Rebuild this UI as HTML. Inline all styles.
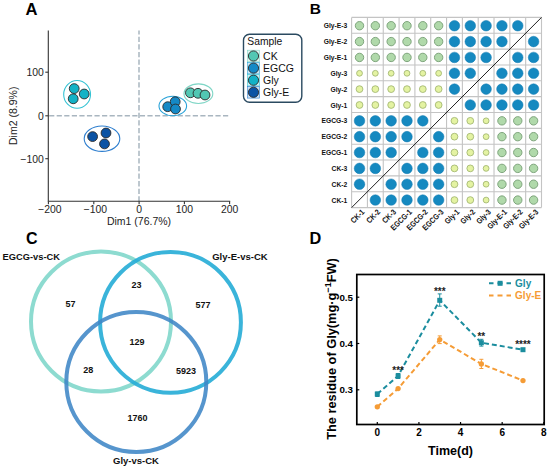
<!DOCTYPE html>
<html><head><meta charset="utf-8"><style>
html,body{margin:0;padding:0;background:#fff;width:550px;height:469px;overflow:hidden}
svg{display:block;font-family:"Liberation Sans", sans-serif}
</style></head><body>
<svg width="550" height="469" viewBox="0 0 550 469">
<rect width="550" height="469" fill="#fff"/>
<text x="25.6" y="15.4" font-size="16.6" font-weight="bold" fill="#000">A</text>
<line x1="48.3" y1="115.8" x2="230.2" y2="115.8" stroke="#a9b6c0" stroke-width="1.5" stroke-dasharray="5.2 2.36" stroke-dashoffset="-0.82"/>
<line x1="139" y1="30.4" x2="139" y2="201.2" stroke="#a9b6c0" stroke-width="1.5" stroke-dasharray="5.3 2.3" stroke-dashoffset="-6.3"/>
<path d="M48.3 30.4 V201.2 H230.2" fill="none" stroke="#333" stroke-width="1.1"/>
<line x1="45.3" y1="72.2" x2="48.3" y2="72.2" stroke="#333" stroke-width="1.1"/>
<text x="43.8" y="76.4" font-size="10.4" fill="#1e1e1e" text-anchor="end">100</text>
<line x1="45.3" y1="115.8" x2="48.3" y2="115.8" stroke="#333" stroke-width="1.1"/>
<text x="43.8" y="120.0" font-size="10.4" fill="#1e1e1e" text-anchor="end">0</text>
<line x1="45.3" y1="158.7" x2="48.3" y2="158.7" stroke="#333" stroke-width="1.1"/>
<text x="43.8" y="162.89999999999998" font-size="10.4" fill="#1e1e1e" text-anchor="end">−<tspan dx="0.4">100</tspan></text>
<line x1="48.4" y1="201.2" x2="48.4" y2="204.2" stroke="#333" stroke-width="1.1"/>
<text x="49.699999999999996" y="213" font-size="10.4" fill="#1e1e1e" text-anchor="middle">−<tspan dx="0.4">200</tspan></text>
<line x1="93.8" y1="201.2" x2="93.8" y2="204.2" stroke="#333" stroke-width="1.1"/>
<text x="95.1" y="213" font-size="10.4" fill="#1e1e1e" text-anchor="middle">−<tspan dx="0.4">100</tspan></text>
<line x1="139.1" y1="201.2" x2="139.1" y2="204.2" stroke="#333" stroke-width="1.1"/>
<text x="139.1" y="213" font-size="10.4" fill="#1e1e1e" text-anchor="middle">0</text>
<line x1="184.4" y1="201.2" x2="184.4" y2="204.2" stroke="#333" stroke-width="1.1"/>
<text x="184.4" y="213" font-size="10.4" fill="#1e1e1e" text-anchor="middle">100</text>
<line x1="229.6" y1="201.2" x2="229.6" y2="204.2" stroke="#333" stroke-width="1.1"/>
<text x="229.6" y="213" font-size="10.4" fill="#1e1e1e" text-anchor="middle">200</text>
<text x="139" y="225" font-size="10.5" fill="#222" text-anchor="middle">Dim1 (76.7%)</text>
<text transform="translate(17.4 115.8) rotate(-90)" x="0" y="0" font-size="10.5" fill="#222" text-anchor="middle">Dim2 (8.9%)</text>
<ellipse cx="77.1" cy="94.4" rx="13.4" ry="13.9" fill="none" stroke="#35c3d4" stroke-width="1.1" transform="rotate(0 77.1 94.4)"/>
<circle cx="74.2" cy="88.6" r="4.9" fill="#13b2c6" stroke="#2a2a2a" stroke-width="0.9"/>
<circle cx="84.2" cy="94" r="4.9" fill="#13b2c6" stroke="#2a2a2a" stroke-width="0.9"/>
<circle cx="73.2" cy="98.8" r="4.9" fill="#13b2c6" stroke="#2a2a2a" stroke-width="0.9"/>
<ellipse cx="102" cy="138.7" rx="17.8" ry="12.7" fill="none" stroke="#2f7fcf" stroke-width="1.1" transform="rotate(0 102 138.7)"/>
<circle cx="92.6" cy="136.6" r="4.9" fill="#0c53a4" stroke="#2a2a2a" stroke-width="0.9"/>
<circle cx="106" cy="133" r="4.9" fill="#0c53a4" stroke="#2a2a2a" stroke-width="0.9"/>
<circle cx="104.5" cy="143.9" r="4.9" fill="#0c53a4" stroke="#2a2a2a" stroke-width="0.9"/>
<ellipse cx="198.4" cy="93.7" rx="14.4" ry="9.8" fill="none" stroke="#7fd6c6" stroke-width="1.1" transform="rotate(0 198.4 93.7)"/>
<circle cx="190.4" cy="92.8" r="4.9" fill="#52c7b3" stroke="#2a2a2a" stroke-width="0.9"/>
<circle cx="198" cy="93.3" r="4.9" fill="#52c7b3" stroke="#2a2a2a" stroke-width="0.9"/>
<circle cx="205" cy="95" r="4.9" fill="#52c7b3" stroke="#2a2a2a" stroke-width="0.9"/>
<ellipse cx="172.8" cy="106" rx="13.8" ry="9.7" fill="none" stroke="#2aa3d9" stroke-width="1.1" transform="rotate(0 172.8 106)"/>
<circle cx="167.7" cy="106.7" r="4.9" fill="#1589c6" stroke="#2a2a2a" stroke-width="0.9"/>
<circle cx="175.2" cy="101.7" r="4.9" fill="#1589c6" stroke="#2a2a2a" stroke-width="0.9"/>
<circle cx="175.5" cy="109" r="4.9" fill="#1589c6" stroke="#2a2a2a" stroke-width="0.9"/>
<rect x="243.5" y="34.3" width="58.3" height="67.9" rx="6" fill="#fff" stroke="#2b4a60" stroke-width="1.4"/>
<text x="247.3" y="45.4" font-size="10.3" fill="#111">Sample</text>
<rect x="247.5" y="50.2" width="12" height="11.6" fill="#7fd6c6" fill-opacity="0.25" stroke="#7fd6c6" stroke-width="0.6"/>
<circle cx="253.5" cy="56.0" r="5.1" fill="#52c7b3" stroke="#2a2a2a" stroke-width="0.9"/>
<text x="263.1" y="59.7" font-size="10.5" fill="#111">CK</text>
<rect x="247.5" y="62.3" width="12" height="11.6" fill="#2aa3d9" fill-opacity="0.25" stroke="#2aa3d9" stroke-width="0.6"/>
<circle cx="253.5" cy="68.1" r="5.1" fill="#1589c6" stroke="#2a2a2a" stroke-width="0.9"/>
<text x="263.1" y="71.8" font-size="10.5" fill="#111">EGCG</text>
<rect x="247.5" y="74.4" width="12" height="11.6" fill="#35c3d4" fill-opacity="0.25" stroke="#35c3d4" stroke-width="0.6"/>
<circle cx="253.5" cy="80.2" r="5.1" fill="#13b2c6" stroke="#2a2a2a" stroke-width="0.9"/>
<text x="263.1" y="83.9" font-size="10.5" fill="#111">Gly</text>
<rect x="247.5" y="86.5" width="12" height="11.6" fill="#2f7fcf" fill-opacity="0.25" stroke="#2f7fcf" stroke-width="0.6"/>
<circle cx="253.5" cy="92.3" r="5.1" fill="#0c53a4" stroke="#2a2a2a" stroke-width="0.9"/>
<text x="263.1" y="96.0" font-size="10.5" fill="#111">Gly-E</text>
<text x="309.8" y="14.3" font-size="15.5" font-weight="bold" fill="#000">B</text>
<circle cx="375.34" cy="200.07" r="5.3" fill="#1589c0" stroke="#137bb0" stroke-width="0.5"/>
<circle cx="391.16" cy="200.07" r="5.3" fill="#1589c0" stroke="#137bb0" stroke-width="0.5"/>
<circle cx="406.99" cy="200.07" r="5.3" fill="#1589c0" stroke="#137bb0" stroke-width="0.5"/>
<circle cx="422.81" cy="200.07" r="5.3" fill="#1589c0" stroke="#137bb0" stroke-width="0.5"/>
<circle cx="438.64" cy="200.07" r="5.3" fill="#1589c0" stroke="#137bb0" stroke-width="0.5"/>
<circle cx="454.46" cy="200.07" r="3.4" fill="#e4f3a2" stroke="#a5b974" stroke-width="0.9"/>
<circle cx="470.29" cy="200.07" r="3.4" fill="#e4f3a2" stroke="#a5b974" stroke-width="0.9"/>
<circle cx="486.11" cy="200.07" r="2.9" fill="#e4f3a2" stroke="#a5b974" stroke-width="0.9"/>
<circle cx="501.94" cy="200.07" r="4.2" fill="#b0d9aa" stroke="#7fa57d" stroke-width="1"/>
<circle cx="517.76" cy="200.07" r="4.2" fill="#b0d9aa" stroke="#7fa57d" stroke-width="1"/>
<circle cx="533.59" cy="200.07" r="4.2" fill="#b0d9aa" stroke="#7fa57d" stroke-width="1"/>
<circle cx="359.51" cy="184.22" r="5.3" fill="#1589c0" stroke="#137bb0" stroke-width="0.5"/>
<circle cx="391.16" cy="184.22" r="5.3" fill="#1589c0" stroke="#137bb0" stroke-width="0.5"/>
<circle cx="406.99" cy="184.22" r="5.3" fill="#1589c0" stroke="#137bb0" stroke-width="0.5"/>
<circle cx="422.81" cy="184.22" r="5.3" fill="#1589c0" stroke="#137bb0" stroke-width="0.5"/>
<circle cx="438.64" cy="184.22" r="5.3" fill="#1589c0" stroke="#137bb0" stroke-width="0.5"/>
<circle cx="454.46" cy="184.22" r="3.4" fill="#e4f3a2" stroke="#a5b974" stroke-width="0.9"/>
<circle cx="470.29" cy="184.22" r="3.4" fill="#e4f3a2" stroke="#a5b974" stroke-width="0.9"/>
<circle cx="486.11" cy="184.22" r="2.9" fill="#e4f3a2" stroke="#a5b974" stroke-width="0.9"/>
<circle cx="501.94" cy="184.22" r="4.2" fill="#b0d9aa" stroke="#7fa57d" stroke-width="1"/>
<circle cx="517.76" cy="184.22" r="4.2" fill="#b0d9aa" stroke="#7fa57d" stroke-width="1"/>
<circle cx="533.59" cy="184.22" r="4.2" fill="#b0d9aa" stroke="#7fa57d" stroke-width="1"/>
<circle cx="359.51" cy="168.38" r="5.3" fill="#1589c0" stroke="#137bb0" stroke-width="0.5"/>
<circle cx="375.34" cy="168.38" r="5.3" fill="#1589c0" stroke="#137bb0" stroke-width="0.5"/>
<circle cx="406.99" cy="168.38" r="5.3" fill="#1589c0" stroke="#137bb0" stroke-width="0.5"/>
<circle cx="422.81" cy="168.38" r="5.3" fill="#1589c0" stroke="#137bb0" stroke-width="0.5"/>
<circle cx="438.64" cy="168.38" r="5.3" fill="#1589c0" stroke="#137bb0" stroke-width="0.5"/>
<circle cx="454.46" cy="168.38" r="3.4" fill="#e4f3a2" stroke="#a5b974" stroke-width="0.9"/>
<circle cx="470.29" cy="168.38" r="3.4" fill="#e4f3a2" stroke="#a5b974" stroke-width="0.9"/>
<circle cx="486.11" cy="168.38" r="2.9" fill="#e4f3a2" stroke="#a5b974" stroke-width="0.9"/>
<circle cx="501.94" cy="168.38" r="4.2" fill="#b0d9aa" stroke="#7fa57d" stroke-width="1"/>
<circle cx="517.76" cy="168.38" r="4.2" fill="#b0d9aa" stroke="#7fa57d" stroke-width="1"/>
<circle cx="533.59" cy="168.38" r="4.2" fill="#b0d9aa" stroke="#7fa57d" stroke-width="1"/>
<circle cx="359.51" cy="152.53" r="5.3" fill="#1589c0" stroke="#137bb0" stroke-width="0.5"/>
<circle cx="375.34" cy="152.53" r="5.3" fill="#1589c0" stroke="#137bb0" stroke-width="0.5"/>
<circle cx="391.16" cy="152.53" r="5.3" fill="#1589c0" stroke="#137bb0" stroke-width="0.5"/>
<circle cx="422.81" cy="152.53" r="5.3" fill="#1589c0" stroke="#137bb0" stroke-width="0.5"/>
<circle cx="438.64" cy="152.53" r="5.3" fill="#1589c0" stroke="#137bb0" stroke-width="0.5"/>
<circle cx="454.46" cy="152.53" r="3.4" fill="#e4f3a2" stroke="#a5b974" stroke-width="0.9"/>
<circle cx="470.29" cy="152.53" r="3.4" fill="#e4f3a2" stroke="#a5b974" stroke-width="0.9"/>
<circle cx="486.11" cy="152.53" r="2.9" fill="#e4f3a2" stroke="#a5b974" stroke-width="0.9"/>
<circle cx="501.94" cy="152.53" r="4.2" fill="#b0d9aa" stroke="#7fa57d" stroke-width="1"/>
<circle cx="517.76" cy="152.53" r="4.2" fill="#b0d9aa" stroke="#7fa57d" stroke-width="1"/>
<circle cx="533.59" cy="152.53" r="4.2" fill="#b0d9aa" stroke="#7fa57d" stroke-width="1"/>
<circle cx="359.51" cy="136.67" r="5.3" fill="#1589c0" stroke="#137bb0" stroke-width="0.5"/>
<circle cx="375.34" cy="136.67" r="5.3" fill="#1589c0" stroke="#137bb0" stroke-width="0.5"/>
<circle cx="391.16" cy="136.67" r="5.3" fill="#1589c0" stroke="#137bb0" stroke-width="0.5"/>
<circle cx="406.99" cy="136.67" r="5.3" fill="#1589c0" stroke="#137bb0" stroke-width="0.5"/>
<circle cx="438.64" cy="136.67" r="5.3" fill="#1589c0" stroke="#137bb0" stroke-width="0.5"/>
<circle cx="454.46" cy="136.67" r="3.4" fill="#e4f3a2" stroke="#a5b974" stroke-width="0.9"/>
<circle cx="470.29" cy="136.67" r="3.4" fill="#e4f3a2" stroke="#a5b974" stroke-width="0.9"/>
<circle cx="486.11" cy="136.67" r="2.9" fill="#e4f3a2" stroke="#a5b974" stroke-width="0.9"/>
<circle cx="501.94" cy="136.67" r="4.2" fill="#b0d9aa" stroke="#7fa57d" stroke-width="1"/>
<circle cx="517.76" cy="136.67" r="4.2" fill="#b0d9aa" stroke="#7fa57d" stroke-width="1"/>
<circle cx="533.59" cy="136.67" r="4.2" fill="#b0d9aa" stroke="#7fa57d" stroke-width="1"/>
<circle cx="359.51" cy="120.83" r="5.3" fill="#1589c0" stroke="#137bb0" stroke-width="0.5"/>
<circle cx="375.34" cy="120.83" r="5.3" fill="#1589c0" stroke="#137bb0" stroke-width="0.5"/>
<circle cx="391.16" cy="120.83" r="5.3" fill="#1589c0" stroke="#137bb0" stroke-width="0.5"/>
<circle cx="406.99" cy="120.83" r="5.3" fill="#1589c0" stroke="#137bb0" stroke-width="0.5"/>
<circle cx="422.81" cy="120.83" r="5.3" fill="#1589c0" stroke="#137bb0" stroke-width="0.5"/>
<circle cx="454.46" cy="120.83" r="3.4" fill="#e4f3a2" stroke="#a5b974" stroke-width="0.9"/>
<circle cx="470.29" cy="120.83" r="3.4" fill="#e4f3a2" stroke="#a5b974" stroke-width="0.9"/>
<circle cx="486.11" cy="120.83" r="2.9" fill="#e4f3a2" stroke="#a5b974" stroke-width="0.9"/>
<circle cx="501.94" cy="120.83" r="4.2" fill="#b0d9aa" stroke="#7fa57d" stroke-width="1"/>
<circle cx="517.76" cy="120.83" r="4.2" fill="#b0d9aa" stroke="#7fa57d" stroke-width="1"/>
<circle cx="533.59" cy="120.83" r="4.2" fill="#b0d9aa" stroke="#7fa57d" stroke-width="1"/>
<circle cx="359.51" cy="104.98" r="3.4" fill="#e4f3a2" stroke="#a5b974" stroke-width="0.9"/>
<circle cx="375.34" cy="104.98" r="3.4" fill="#e4f3a2" stroke="#a5b974" stroke-width="0.9"/>
<circle cx="391.16" cy="104.98" r="3.4" fill="#e4f3a2" stroke="#a5b974" stroke-width="0.9"/>
<circle cx="406.99" cy="104.98" r="3.4" fill="#e4f3a2" stroke="#a5b974" stroke-width="0.9"/>
<circle cx="422.81" cy="104.98" r="3.4" fill="#e4f3a2" stroke="#a5b974" stroke-width="0.9"/>
<circle cx="438.64" cy="104.98" r="3.4" fill="#e4f3a2" stroke="#a5b974" stroke-width="0.9"/>
<circle cx="470.29" cy="104.98" r="5.3" fill="#1589c0" stroke="#137bb0" stroke-width="0.5"/>
<circle cx="486.11" cy="104.98" r="5.3" fill="#1589c0" stroke="#137bb0" stroke-width="0.5"/>
<circle cx="501.94" cy="104.98" r="5.3" fill="#1589c0" stroke="#137bb0" stroke-width="0.5"/>
<circle cx="517.76" cy="104.98" r="5.3" fill="#1589c0" stroke="#137bb0" stroke-width="0.5"/>
<circle cx="533.59" cy="104.98" r="5.3" fill="#1589c0" stroke="#137bb0" stroke-width="0.5"/>
<circle cx="359.51" cy="89.12" r="3.4" fill="#e4f3a2" stroke="#a5b974" stroke-width="0.9"/>
<circle cx="375.34" cy="89.12" r="3.4" fill="#e4f3a2" stroke="#a5b974" stroke-width="0.9"/>
<circle cx="391.16" cy="89.12" r="3.4" fill="#e4f3a2" stroke="#a5b974" stroke-width="0.9"/>
<circle cx="406.99" cy="89.12" r="3.4" fill="#e4f3a2" stroke="#a5b974" stroke-width="0.9"/>
<circle cx="422.81" cy="89.12" r="3.4" fill="#e4f3a2" stroke="#a5b974" stroke-width="0.9"/>
<circle cx="438.64" cy="89.12" r="3.4" fill="#e4f3a2" stroke="#a5b974" stroke-width="0.9"/>
<circle cx="454.46" cy="89.12" r="5.3" fill="#1589c0" stroke="#137bb0" stroke-width="0.5"/>
<circle cx="486.11" cy="89.12" r="5.3" fill="#1589c0" stroke="#137bb0" stroke-width="0.5"/>
<circle cx="501.94" cy="89.12" r="5.3" fill="#1589c0" stroke="#137bb0" stroke-width="0.5"/>
<circle cx="517.76" cy="89.12" r="5.3" fill="#1589c0" stroke="#137bb0" stroke-width="0.5"/>
<circle cx="533.59" cy="89.12" r="5.3" fill="#1589c0" stroke="#137bb0" stroke-width="0.5"/>
<circle cx="359.51" cy="73.28" r="2.9" fill="#e4f3a2" stroke="#a5b974" stroke-width="0.9"/>
<circle cx="375.34" cy="73.28" r="2.9" fill="#e4f3a2" stroke="#a5b974" stroke-width="0.9"/>
<circle cx="391.16" cy="73.28" r="2.9" fill="#e4f3a2" stroke="#a5b974" stroke-width="0.9"/>
<circle cx="406.99" cy="73.28" r="2.9" fill="#e4f3a2" stroke="#a5b974" stroke-width="0.9"/>
<circle cx="422.81" cy="73.28" r="2.9" fill="#e4f3a2" stroke="#a5b974" stroke-width="0.9"/>
<circle cx="438.64" cy="73.28" r="2.9" fill="#e4f3a2" stroke="#a5b974" stroke-width="0.9"/>
<circle cx="454.46" cy="73.28" r="5.3" fill="#1589c0" stroke="#137bb0" stroke-width="0.5"/>
<circle cx="470.29" cy="73.28" r="5.3" fill="#1589c0" stroke="#137bb0" stroke-width="0.5"/>
<circle cx="501.94" cy="73.28" r="5.3" fill="#1589c0" stroke="#137bb0" stroke-width="0.5"/>
<circle cx="517.76" cy="73.28" r="5.3" fill="#1589c0" stroke="#137bb0" stroke-width="0.5"/>
<circle cx="533.59" cy="73.28" r="5.3" fill="#1589c0" stroke="#137bb0" stroke-width="0.5"/>
<circle cx="359.51" cy="57.43" r="4.2" fill="#b0d9aa" stroke="#7fa57d" stroke-width="1"/>
<circle cx="375.34" cy="57.43" r="4.2" fill="#b0d9aa" stroke="#7fa57d" stroke-width="1"/>
<circle cx="391.16" cy="57.43" r="4.2" fill="#b0d9aa" stroke="#7fa57d" stroke-width="1"/>
<circle cx="406.99" cy="57.43" r="4.2" fill="#b0d9aa" stroke="#7fa57d" stroke-width="1"/>
<circle cx="422.81" cy="57.43" r="4.2" fill="#b0d9aa" stroke="#7fa57d" stroke-width="1"/>
<circle cx="438.64" cy="57.43" r="4.2" fill="#b0d9aa" stroke="#7fa57d" stroke-width="1"/>
<circle cx="454.46" cy="57.43" r="5.3" fill="#1589c0" stroke="#137bb0" stroke-width="0.5"/>
<circle cx="470.29" cy="57.43" r="5.3" fill="#1589c0" stroke="#137bb0" stroke-width="0.5"/>
<circle cx="486.11" cy="57.43" r="5.3" fill="#1589c0" stroke="#137bb0" stroke-width="0.5"/>
<circle cx="517.76" cy="57.43" r="5.3" fill="#1589c0" stroke="#137bb0" stroke-width="0.5"/>
<circle cx="533.59" cy="57.43" r="5.3" fill="#1589c0" stroke="#137bb0" stroke-width="0.5"/>
<circle cx="359.51" cy="41.58" r="4.2" fill="#b0d9aa" stroke="#7fa57d" stroke-width="1"/>
<circle cx="375.34" cy="41.58" r="4.2" fill="#b0d9aa" stroke="#7fa57d" stroke-width="1"/>
<circle cx="391.16" cy="41.58" r="4.2" fill="#b0d9aa" stroke="#7fa57d" stroke-width="1"/>
<circle cx="406.99" cy="41.58" r="4.2" fill="#b0d9aa" stroke="#7fa57d" stroke-width="1"/>
<circle cx="422.81" cy="41.58" r="4.2" fill="#b0d9aa" stroke="#7fa57d" stroke-width="1"/>
<circle cx="438.64" cy="41.58" r="4.2" fill="#b0d9aa" stroke="#7fa57d" stroke-width="1"/>
<circle cx="454.46" cy="41.58" r="5.3" fill="#1589c0" stroke="#137bb0" stroke-width="0.5"/>
<circle cx="470.29" cy="41.58" r="5.3" fill="#1589c0" stroke="#137bb0" stroke-width="0.5"/>
<circle cx="486.11" cy="41.58" r="5.3" fill="#1589c0" stroke="#137bb0" stroke-width="0.5"/>
<circle cx="501.94" cy="41.58" r="5.3" fill="#1589c0" stroke="#137bb0" stroke-width="0.5"/>
<circle cx="533.59" cy="41.58" r="5.3" fill="#1589c0" stroke="#137bb0" stroke-width="0.5"/>
<circle cx="359.51" cy="25.72" r="4.2" fill="#b0d9aa" stroke="#7fa57d" stroke-width="1"/>
<circle cx="375.34" cy="25.72" r="4.2" fill="#b0d9aa" stroke="#7fa57d" stroke-width="1"/>
<circle cx="391.16" cy="25.72" r="4.2" fill="#b0d9aa" stroke="#7fa57d" stroke-width="1"/>
<circle cx="406.99" cy="25.72" r="4.2" fill="#b0d9aa" stroke="#7fa57d" stroke-width="1"/>
<circle cx="422.81" cy="25.72" r="4.2" fill="#b0d9aa" stroke="#7fa57d" stroke-width="1"/>
<circle cx="438.64" cy="25.72" r="4.2" fill="#b0d9aa" stroke="#7fa57d" stroke-width="1"/>
<circle cx="454.46" cy="25.72" r="5.3" fill="#1589c0" stroke="#137bb0" stroke-width="0.5"/>
<circle cx="470.29" cy="25.72" r="5.3" fill="#1589c0" stroke="#137bb0" stroke-width="0.5"/>
<circle cx="486.11" cy="25.72" r="5.3" fill="#1589c0" stroke="#137bb0" stroke-width="0.5"/>
<circle cx="501.94" cy="25.72" r="5.3" fill="#1589c0" stroke="#137bb0" stroke-width="0.5"/>
<circle cx="517.76" cy="25.72" r="5.3" fill="#1589c0" stroke="#137bb0" stroke-width="0.5"/>
<path d="M351.60 17.4V207.6M351.6 17.40H541.5M367.43 17.4V207.6M351.6 33.25H541.5M383.25 17.4V207.6M351.6 49.10H541.5M399.08 17.4V207.6M351.6 64.95H541.5M414.90 17.4V207.6M351.6 80.80H541.5M430.73 17.4V207.6M351.6 96.65H541.5M446.55 17.4V207.6M351.6 112.50H541.5M462.38 17.4V207.6M351.6 128.35H541.5M478.20 17.4V207.6M351.6 144.20H541.5M494.02 17.4V207.6M351.6 160.05H541.5M509.85 17.4V207.6M351.6 175.90H541.5M525.67 17.4V207.6M351.6 191.75H541.5M541.50 17.4V207.6M351.6 207.60H541.5" stroke="#c4c4c4" stroke-width="1.1" fill="none"/>
<line x1="351.6" y1="207.6" x2="541.5" y2="17.4" stroke="#222" stroke-width="1"/>
<text transform="translate(347.2 202.62) scale(0.84 1)" font-size="8" font-weight="bold" fill="#111" text-anchor="end">CK-1</text>
<text transform="translate(347.2 186.77) scale(0.84 1)" font-size="8" font-weight="bold" fill="#111" text-anchor="end">CK-2</text>
<text transform="translate(347.2 170.92) scale(0.84 1)" font-size="8" font-weight="bold" fill="#111" text-anchor="end">CK-3</text>
<text transform="translate(347.2 155.07) scale(0.84 1)" font-size="8" font-weight="bold" fill="#111" text-anchor="end">EGCG-1</text>
<text transform="translate(347.2 139.22) scale(0.84 1)" font-size="8" font-weight="bold" fill="#111" text-anchor="end">EGCG-2</text>
<text transform="translate(347.2 123.38) scale(0.84 1)" font-size="8" font-weight="bold" fill="#111" text-anchor="end">EGCG-3</text>
<text transform="translate(347.2 107.53) scale(0.84 1)" font-size="8" font-weight="bold" fill="#111" text-anchor="end">Gly-1</text>
<text transform="translate(347.2 91.67) scale(0.84 1)" font-size="8" font-weight="bold" fill="#111" text-anchor="end">Gly-2</text>
<text transform="translate(347.2 75.83) scale(0.84 1)" font-size="8" font-weight="bold" fill="#111" text-anchor="end">Gly-3</text>
<text transform="translate(347.2 59.98) scale(0.84 1)" font-size="8" font-weight="bold" fill="#111" text-anchor="end">Gly-E-1</text>
<text transform="translate(347.2 44.13) scale(0.84 1)" font-size="8" font-weight="bold" fill="#111" text-anchor="end">Gly-E-2</text>
<text transform="translate(347.2 28.27) scale(0.84 1)" font-size="8" font-weight="bold" fill="#111" text-anchor="end">Gly-E-3</text>
<text transform="translate(362.91 210.4) rotate(-45) scale(0.87 1)" x="0" y="2.9" font-size="7.9" font-weight="bold" fill="#111" text-anchor="end">CK-1</text>
<text transform="translate(378.74 210.4) rotate(-45) scale(0.87 1)" x="0" y="2.9" font-size="7.9" font-weight="bold" fill="#111" text-anchor="end">CK-2</text>
<text transform="translate(394.56 210.4) rotate(-45) scale(0.87 1)" x="0" y="2.9" font-size="7.9" font-weight="bold" fill="#111" text-anchor="end">CK-3</text>
<text transform="translate(410.39 210.4) rotate(-45) scale(0.87 1)" x="0" y="2.9" font-size="7.9" font-weight="bold" fill="#111" text-anchor="end">EGCG-1</text>
<text transform="translate(426.21 210.4) rotate(-45) scale(0.87 1)" x="0" y="2.9" font-size="7.9" font-weight="bold" fill="#111" text-anchor="end">EGCG-2</text>
<text transform="translate(442.04 210.4) rotate(-45) scale(0.87 1)" x="0" y="2.9" font-size="7.9" font-weight="bold" fill="#111" text-anchor="end">EGCG-3</text>
<text transform="translate(457.86 210.4) rotate(-45) scale(0.87 1)" x="0" y="2.9" font-size="7.9" font-weight="bold" fill="#111" text-anchor="end">Gly-1</text>
<text transform="translate(473.69 210.4) rotate(-45) scale(0.87 1)" x="0" y="2.9" font-size="7.9" font-weight="bold" fill="#111" text-anchor="end">Gly-2</text>
<text transform="translate(489.51 210.4) rotate(-45) scale(0.87 1)" x="0" y="2.9" font-size="7.9" font-weight="bold" fill="#111" text-anchor="end">Gly-3</text>
<text transform="translate(505.34 210.4) rotate(-45) scale(0.87 1)" x="0" y="2.9" font-size="7.9" font-weight="bold" fill="#111" text-anchor="end">Gly-E-1</text>
<text transform="translate(521.16 210.4) rotate(-45) scale(0.87 1)" x="0" y="2.9" font-size="7.9" font-weight="bold" fill="#111" text-anchor="end">Gly-E-2</text>
<text transform="translate(536.99 210.4) rotate(-45) scale(0.87 1)" x="0" y="2.9" font-size="7.9" font-weight="bold" fill="#111" text-anchor="end">Gly-E-3</text>
<text x="26" y="243.6" font-size="16" font-weight="bold" fill="#000">C</text>
<circle cx="101" cy="321.5" r="70" fill="none" stroke="#8ddbd0" stroke-width="4"/>
<circle cx="170.5" cy="322.3" r="70.4" fill="none" stroke="#25acd6" stroke-width="4" stroke-opacity="0.9"/>
<circle cx="136.3" cy="382" r="70" fill="none" stroke="#3f86c6" stroke-width="4" stroke-opacity="0.88"/>
<text x="70.4" y="306.8" font-size="9" font-weight="bold" fill="#111" text-anchor="middle">57</text>
<text x="136.4" y="288.3" font-size="9" font-weight="bold" fill="#111" text-anchor="middle">23</text>
<text x="202.9" y="307.7" font-size="9" font-weight="bold" fill="#111" text-anchor="middle">577</text>
<text x="137" y="344.8" font-size="9" font-weight="bold" fill="#111" text-anchor="middle">129</text>
<text x="88.3" y="373.0" font-size="9" font-weight="bold" fill="#111" text-anchor="middle">28</text>
<text x="185.9" y="373.5" font-size="9" font-weight="bold" fill="#111" text-anchor="middle">5923</text>
<text x="137.5" y="421.2" font-size="9" font-weight="bold" fill="#111" text-anchor="middle">1760</text>
<text x="2.6" y="259.8" font-size="9.3" font-weight="bold" fill="#111">EGCG-vs-CK</text>
<text x="212.2" y="259.8" font-size="9.5" font-weight="bold" fill="#111">Gly-E-vs-CK</text>
<text x="136" y="464" font-size="9.5" font-weight="bold" fill="#111" text-anchor="middle">Gly-vs-CK</text>
<text x="309.6" y="243.8" font-size="16.3" font-weight="bold" fill="#000">D</text>
<rect x="356.8" y="274.5" width="187.40000000000003" height="150.0" fill="none" stroke="#000" stroke-width="1.7"/>
<line x1="356.8" y1="389.80" x2="359.3" y2="389.80" stroke="#000" stroke-width="1.2"/>
<text x="353" y="393.30" font-size="9.8" font-weight="bold" fill="#000" text-anchor="end">0.3</text>
<line x1="356.8" y1="343.50" x2="359.3" y2="343.50" stroke="#000" stroke-width="1.2"/>
<text x="353" y="347.00" font-size="9.8" font-weight="bold" fill="#000" text-anchor="end">0.4</text>
<line x1="356.8" y1="297.20" x2="359.3" y2="297.20" stroke="#000" stroke-width="1.2"/>
<text x="353" y="300.70" font-size="9.8" font-weight="bold" fill="#000" text-anchor="end">0.5</text>
<line x1="377.30" y1="424.5" x2="377.30" y2="422.0" stroke="#000" stroke-width="1.2"/>
<text x="377.30" y="436" font-size="10" font-weight="bold" fill="#000" text-anchor="middle">0</text>
<line x1="418.93" y1="424.5" x2="418.93" y2="422.0" stroke="#000" stroke-width="1.2"/>
<text x="418.93" y="436" font-size="10" font-weight="bold" fill="#000" text-anchor="middle">2</text>
<line x1="460.55" y1="424.5" x2="460.55" y2="422.0" stroke="#000" stroke-width="1.2"/>
<text x="460.55" y="436" font-size="10" font-weight="bold" fill="#000" text-anchor="middle">4</text>
<line x1="502.17" y1="424.5" x2="502.17" y2="422.0" stroke="#000" stroke-width="1.2"/>
<text x="502.17" y="436" font-size="10" font-weight="bold" fill="#000" text-anchor="middle">6</text>
<line x1="543.80" y1="424.5" x2="543.80" y2="422.0" stroke="#000" stroke-width="1.2"/>
<text x="543.80" y="436" font-size="10" font-weight="bold" fill="#000" text-anchor="middle">8</text>
<text x="450.5" y="454.7" font-size="12.5" font-weight="bold" fill="#000" text-anchor="middle">Time(d)</text>
<text transform="translate(335.8 349) rotate(-90)" x="0" y="0" font-size="12.8" font-weight="bold" fill="#000" text-anchor="middle">The residue of Gly(mg·g<tspan dy="-4.5" font-size="9">−1</tspan><tspan dy="4.5">FW)</tspan></text>
<path d="M377.30 394.1 L398.11 375.9 L439.74 300.3 L481.36 342.7 L522.99 349.7" fill="none" stroke="#1b8d9e" stroke-width="2" stroke-dasharray="5 3"/>
<path d="M377.30 406.8 L398.11 388.6 L439.74 339.6 L481.36 363.9 L522.99 380.6" fill="none" stroke="#f59c36" stroke-width="2" stroke-dasharray="5 3"/>
<path d="M439.74 293.9V306.2M437.74 293.9H441.74M437.74 306.2H441.74" stroke="#1b8d9e" stroke-width="1" fill="none"/>
<path d="M481.36 339.3V346.1M479.36 339.3H483.36M479.36 346.1H483.36" stroke="#1b8d9e" stroke-width="1" fill="none"/>
<path d="M398.11 373.5V378.5M396.11 373.5H400.11M396.11 378.5H400.11" stroke="#1b8d9e" stroke-width="1" fill="none"/>
<path d="M377.30 392V396.5M375.30 392H379.30M375.30 396.5H379.30" stroke="#1b8d9e" stroke-width="1" fill="none"/>
<path d="M439.74 335.9V343.6M437.74 335.9H441.74M437.74 343.6H441.74" stroke="#f59c36" stroke-width="1" fill="none"/>
<path d="M481.36 359.3V368.5M479.36 359.3H483.36M479.36 368.5H483.36" stroke="#f59c36" stroke-width="1" fill="none"/>
<rect x="374.80" y="391.6" width="5" height="5" fill="#1b8d9e"/>
<rect x="395.61" y="373.4" width="5" height="5" fill="#1b8d9e"/>
<rect x="437.24" y="297.8" width="5" height="5" fill="#1b8d9e"/>
<rect x="478.86" y="340.2" width="5" height="5" fill="#1b8d9e"/>
<rect x="520.49" y="347.2" width="5" height="5" fill="#1b8d9e"/>
<circle cx="377.30" cy="406.8" r="2.65" fill="#f59c36"/>
<circle cx="398.11" cy="388.6" r="2.65" fill="#f59c36"/>
<circle cx="439.74" cy="339.6" r="2.65" fill="#f59c36"/>
<circle cx="481.36" cy="363.9" r="2.65" fill="#f59c36"/>
<circle cx="522.99" cy="380.6" r="2.65" fill="#f59c36"/>
<text x="398.11" y="374.3" font-size="10" font-weight="bold" fill="#222" text-anchor="middle">***</text>
<text x="439.74" y="295.2" font-size="10" font-weight="bold" fill="#222" text-anchor="middle">***</text>
<text x="481.36" y="339.6" font-size="10" font-weight="bold" fill="#222" text-anchor="middle">**</text>
<text x="522.99" y="347.6" font-size="10" font-weight="bold" fill="#222" text-anchor="middle">****</text>
<path d="M489 283.3H493.5M497.5 283.3H502.5M506.5 283.3H511" stroke="#1b8d9e" stroke-width="2"/>
<rect x="497.6" y="280.8" width="5" height="5" fill="#1b8d9e"/>
<text x="515.1" y="286.9" font-size="10" font-weight="bold" fill="#1b8d9e">Gly</text>
<path d="M489 295.6H493.5M497.5 295.6H502.5M506.5 295.6H511" stroke="#f59c36" stroke-width="2"/>
<text x="515.1" y="299.3" font-size="10" font-weight="bold" fill="#f59c36">Gly-E</text>
</svg></body></html>
